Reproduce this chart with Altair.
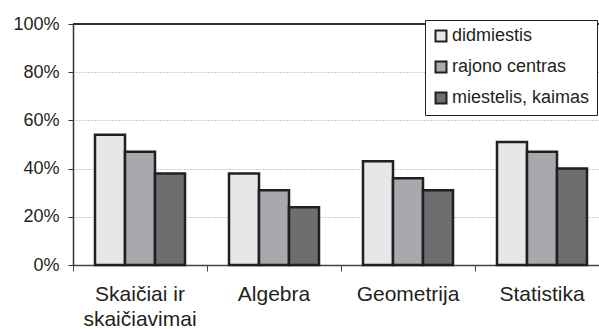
import altair as alt
import pandas as pd

# Test areas and school location types
categories = ["Skaičiai ir skaičiavimai", "Algebra", "Geometrija", "Statistika"]
series = ["didmiestis", "rajono centras", "miestelis, kaimas"]
colors = ["#e6e7e8", "#a7a9ac", "#6d6e70"]

# Share of solved tasks (%) per location type, by area
didmiestis = [54, 38, 43, 51]
rajono_centras = [47, 31, 36, 47]
miestelis_kaimas = [38, 24, 31, 40]

rows = []
for name, vals in zip(series, [didmiestis, rajono_centras, miestelis_kaimas]):
    for cat, v in zip(categories, vals):
        rows.append({"sritis": cat, "vietove": name, "procentai": v})
df = pd.DataFrame(rows)

FONT = "Liberation Sans"
INK = "#231f20"

y_scale = alt.Scale(domain=[0, 100])

bars = alt.Chart(df).mark_bar(stroke=INK, strokeWidth=2.5).encode(
    x=alt.X(
        "sritis:N",
        sort=categories,
        scale=alt.Scale(range=[0, 536], paddingInner=0, paddingOuter=0),
        axis=alt.Axis(
            title=None,
            bandPosition=0,
            labelAngle=0,
            labelFont=FONT,
            labelFontSize=21,
            labelColor=INK,
            labelLineHeight=25,
            labelPadding=12,
            labelExpr="datum.value == 'Skaičiai ir skaičiavimai' ? ['Skaičiai ir', 'skaičiavimai'] : datum.label",
            tickSize=6,
            tickColor="#444",
            domainColor="#444",
            domainWidth=1.5,
            grid=False,
        ),
    ),
    xOffset=alt.XOffset(
        "vietove:N",
        sort=series,
        scale=alt.Scale(paddingInner=0, paddingOuter=0.733),
    ),
    y=alt.Y(
        "procentai:Q",
        scale=y_scale,
        axis=alt.Axis(
            title=None,
            values=[0, 20, 40, 60, 80, 100],
            labelExpr="datum.value + '%'",
            labelFont=FONT,
            labelFontSize=18,
            labelColor=INK,
            labelPadding=9,
            tickSize=5,
            tickColor="#333",
            domainColor="#333",
            domainWidth=1.5,
            grid=True,
            gridColor="#999",
            gridDash=[1, 2],
            gridWidth=1,
        ),
    ),
    color=alt.Color(
        "vietove:N",
        sort=series,
        scale=alt.Scale(domain=series, range=colors),
        legend=alt.Legend(
            title=None,
            orient="none",
            legendX=352,
            legendY=-4,
            fillColor="white",
            strokeColor=INK,
            padding=7,
            rowPadding=11,
            symbolType="square",
            symbolSize=121,
            symbolStrokeColor=INK,
            symbolStrokeWidth=2,
            symbolOffset=0,
            labelFont=FONT,
            labelFontSize=18,
            labelColor=INK,
            labelOffset=2,
        ),
    ),
)

# solid top frame line at 100%
top_line = alt.Chart(df).mark_rule(color="#333", strokeWidth=1.5).encode(
    y=alt.datum(100, scale=y_scale)
)

chart = (
    alt.layer(top_line, bars)
    .properties(
        width=526,
        height=241,
        padding={"left": 73, "top": 24, "right": 0, "bottom": 64},
        autosize=alt.AutoSizeParams(type="none"),
        background="white",
    )
    .configure_view(stroke=None)
)

chart.save("out.html", embed_options={"renderer": "svg", "actions": False})
